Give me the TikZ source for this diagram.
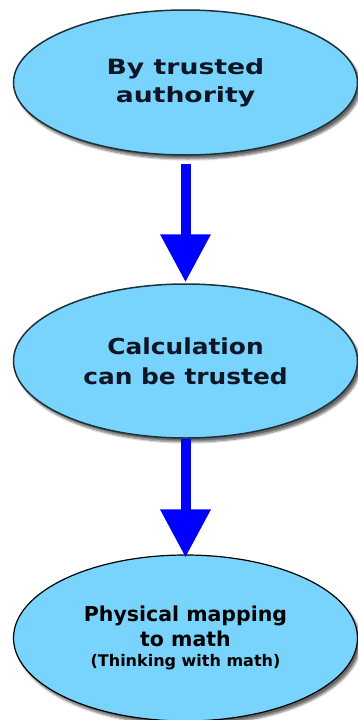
\documentclass[tikz,border=0pt]{standalone}
\usepackage{fontspec}
\setmainfont{DejaVu Sans}
\newfontfamily\widefont[FakeStretch=1.27]{DejaVu Sans}
\newfontfamily\halfwidefont[FakeStretch=1.13]{DejaVu Sans}
\usetikzlibrary{arrows.meta, shapes.geometric, shadows.blur}
\definecolor{bubblefill}{RGB}{120,212,252}
\definecolor{rim}{RGB}{30,48,58}
\definecolor{ink}{RGB}{14,22,38}
\definecolor{pointer}{RGB}{0,0,255}

\begin{document}
\begin{tikzpicture}[x=1pt, y=1pt,
    bubble/.style={ellipse, draw=rim, line width=1.5pt, fill=bubblefill, inner sep=0pt,
        minimum width=344pt, align=center,
        blur shadow={shadow xshift=3pt, shadow yshift=-4pt, shadow blur steps=6, shadow opacity=60}},
    flow/.style={draw=pointer, line width=10pt, -{Triangle[width=48pt 0 0, length=48pt 0 0, fill=pointer]}}]
    \useasboundingbox (0,0) rectangle (357,-720);

    \node[bubble, minimum height=145pt, text=ink,
        font=\widefont\bfseries\fontsize{21}{28}\selectfont] (trust) at (185.5,-82.5) {By trusted\\authority};
    \node[bubble, minimum height=154pt, text=ink,
        font=\halfwidefont\bfseries\fontsize{22}{30}\selectfont] (calc) at (185.5,-361) {Calculation\\can be trusted};
    \node[bubble, draw=black, line width=1.2pt, minimum height=166pt,
        font=\bfseries\fontsize{20.5}{25}\selectfont] (map) at (185.5,-638)
        {Physical mapping\\to math\\[-5pt]{\fontsize{16}{18}\selectfont(Thinking with math)}};

    % connectors
    \draw[flow, shorten <=8pt, shorten >=1pt] (trust.south) -- (calc.north);
    \draw[flow, shorten >=-3pt] (calc.south) -- (map.north);
\end{tikzpicture}
\end{document}
